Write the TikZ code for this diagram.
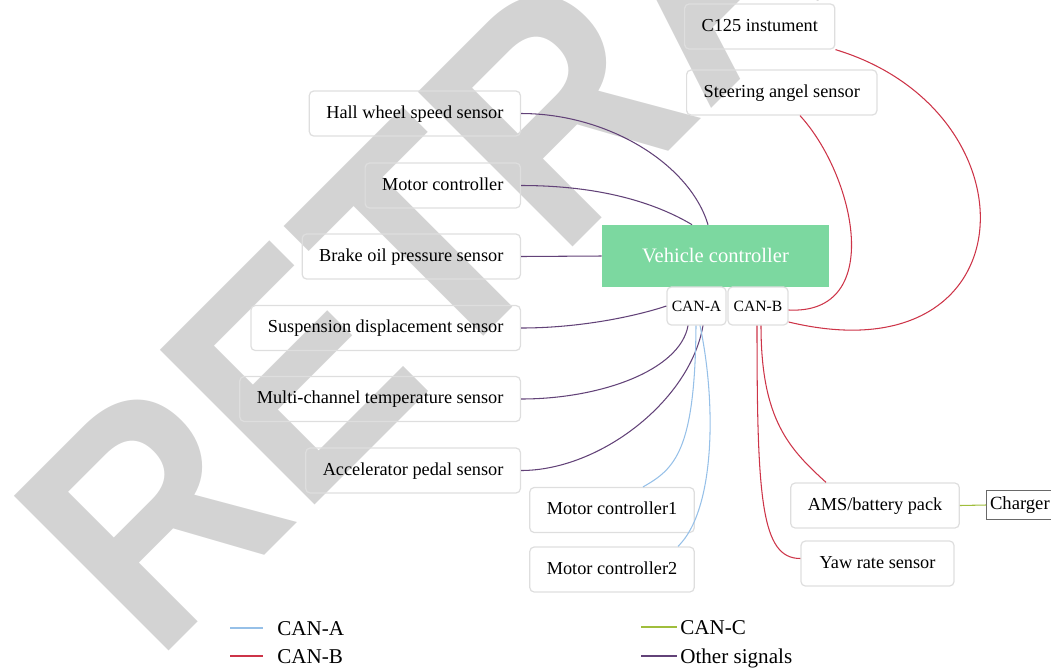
\documentclass[tikz,border=0pt]{standalone}
\usepackage{fontspec}
\setmainfont{Liberation Serif}
\newfontfamily\wmfont{Liberation Sans}
\usepackage{xcolor}
\usepackage{tikz}

\definecolor{canA}{RGB}{150,192,232}
\definecolor{canB}{RGB}{205,52,72}
\definecolor{canC}{RGB}{160,190,60}
\definecolor{other}{RGB}{98,66,120}
\definecolor{vcgreen}{RGB}{124,216,160}
\definecolor{boxline}{RGB}{222,222,222}
\definecolor{chgline}{RGB}{105,105,105}
\definecolor{wmgray}{RGB}{211,211,211}

\begin{document}
\begin{tikzpicture}[%
  x=0.02cm, y=-0.02cm,
  sbox/.style={draw=boxline, line width=0.7pt, rounded corners=2.5pt,
    minimum height=0.9cm, inner xsep=0.34cm, text height=7.4pt, text depth=2.2pt,
    font=\fontsize{10.4}{12}\selectfont},
  port/.style={sbox, minimum height=0.76cm, inner xsep=0.05cm,
    text height=6.4pt, text depth=0pt, font=\fontsize{8.9}{10}\selectfont},
  legend/.style={anchor=west, inner sep=0pt, text height=8.2pt, text depth=2.6pt,
    font=\fontsize{12}{14}\selectfont},
  wire/.style={line width=0.6pt}]
  \useasboundingbox (0,0) rectangle (1051,667);
  \clip (0,0) rectangle (1051,667);

  \node[text=wmgray, rotate=45, xscale=0.9, anchor=base west, inner sep=0pt,
    font=\wmfont\bfseries\fontsize{181}{181}\selectfont] (wm) at (155,665) {RETRACTED};

  \node[sbox, anchor=east] (hall)  at (521,113.5) {Hall wheel speed sensor};
  \node[sbox, anchor=east] (mc)    at (521,185.5) {Motor controller};
  \node[sbox, anchor=east] (brake) at (521,256.5) {Brake oil pressure sensor};
  \node[sbox, anchor=east] (susp)  at (521,328)   {Suspension displacement sensor};
  \node[sbox, anchor=east] (temp)  at (521,399)   {Multi-channel temperature sensor};
  \node[sbox, anchor=east] (acc)   at (521,470.5) {Accelerator pedal sensor};

  \node[fill=vcgreen, text=white, minimum width=4.54cm, minimum height=1.24cm,
    font=\fontsize{11.7}{14}\selectfont] (vc) at (715.5,256) {Vehicle controller};
  \node[port, minimum width=1.18cm] (cana) at (696.5,306) {CAN-A};
  \node[port, minimum width=1.2cm]  (canb) at (758,306)   {CAN-B};

  \node[sbox, anchor=west] (c125)  at (684,26.5) {C125 instument};
  \node[sbox, anchor=west] (steer) at (686,92.5) {Steering angel sensor};
  \node[sbox, minimum width=3.24cm] (mc1) at (612,510)   {Motor controller1};
  \node[sbox, minimum width=3.24cm] (mc2) at (612,569.5) {Motor controller2};
  \node[sbox, minimum width=3.28cm] (ams) at (875,505.5) {AMS/battery pack};
  \node[sbox, minimum width=3.06cm] (yaw) at (877.5,563.5) {Yaw rate sensor};
  \node[draw=chgline, line width=0.6pt, anchor=west, inner xsep=2pt, minimum height=0.52cm,
    text height=7.4pt, text depth=2.2pt, font=\fontsize{10.6}{12}\selectfont] (chg) at (986,505) {Charger};

  % other signals
  \draw[wire, other] (hall.east) .. controls +(88,0) and +(-18,-60) .. ([xshift=-0.15cm]vc.north);
  \draw[wire, other] (mc.east) .. controls +(79,0) and +(-37,-22) .. ([xshift=-0.47cm]vc.north);
  \draw[wire, other] (brake.east) -- (vc.west);
  \draw[wire, other] (susp.east) .. controls +(60,0) and +(-30,10) .. (cana.west);
  \draw[wire, other] (temp.east) .. controls +(79,0) and +(-8,45) .. ([xshift=-0.17cm]cana.south);
  \draw[wire, other] (acc.east) .. controls +(79,0) and +(-13,75) .. ([xshift=0.13cm]cana.south);

  % CAN-A
  \draw[wire, canA] ([xshift=-0.01cm]cana.south) .. controls +(-1,125) and +(32,-18) .. ([xshift=0.62cm]mc1.north);
  \draw[wire, canA] ([xshift=0.07cm]cana.south) .. controls +(16,75) and +(38,-37) .. ([xshift=1.32cm]mc2.north);

  % CAN-B
  \draw[wire, canB] ([xshift=2.28cm]steer.south west) .. controls +(55,60) and +(97,5) .. ([yshift=-0.08cm]canb.east);
  \draw[wire, canB] (c125.south east) .. controls +(205,62) and +(242,58) .. ([yshift=-0.32cm]canb.east);
  \draw[wire, canB] ([xshift=0.06cm]canb.south) .. controls +(0,95) and +(-36,-33) .. ([xshift=-0.98cm]ams.north);
  \draw[wire, canB] ([xshift=-0.02cm]canb.south) .. controls +(0,175) and +(-39,0) .. ([yshift=0.1cm]yaw.west);

  % CAN-C
  \draw[wire, canC] (ams.east) -- (chg.west);

  \node[legend] (lga) at (277,631) {CAN-A};
  \node[legend] (lgb) at (277,659) {CAN-B};
  \node[legend] (lgc) at (680,630) {CAN-C};
  \node[legend] (lgo) at (680,659) {Other signals};
  \draw[wire, canA] ([xshift=-0.94cm, yshift=0.06cm]lga.west) -- ([xshift=-0.28cm, yshift=0.06cm]lga.west);
  \draw[wire, canB] ([xshift=-0.94cm, yshift=0.06cm]lgb.west) -- ([xshift=-0.28cm, yshift=0.06cm]lgb.west);
  \draw[wire, canC] ([xshift=-0.78cm, yshift=0.06cm]lgc.west) -- ([xshift=-0.06cm, yshift=0.06cm]lgc.west);
  \draw[wire, other] ([xshift=-0.78cm, yshift=0.06cm]lgo.west) -- ([xshift=-0.06cm, yshift=0.06cm]lgo.west);
\end{tikzpicture}
\end{document}
